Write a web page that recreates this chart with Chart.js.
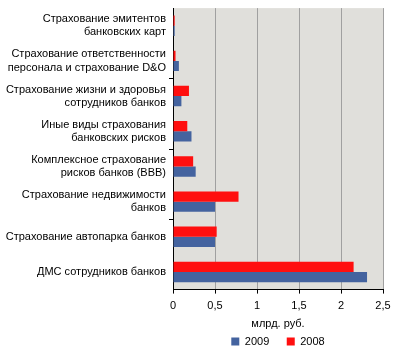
<!DOCTYPE html>
<html><head><meta charset="utf-8">
<script src="https://cdn.jsdelivr.net/npm/chart.js@4"></script>
<style>html,body{margin:0;padding:0;background:#fff}#wrap{width:394px;height:357px}</style>
</head><body><div id="wrap"><canvas id="c" width="394" height="357"></canvas></div>
<script>
const categories = [
  ["Страхование эмитентов", "банковских карт"],
  ["Страхование ответственности", "персонала и страхование D&O"],
  ["Страхование жизни и здоровья", "сотрудников банков"],
  ["Иные виды страхования", "банковских рисков"],
  ["Комплексное страхование", "рисков банков (BBB)"],
  ["Страхование недвижимости", "банков"],
  "Страхование автопарка банков",
  "ДМС сотрудников банков"
];
const values2008 = [0.02, 0.03, 0.19, 0.17, 0.24, 0.78, 0.52, 2.15];
const values2009 = [0.02, 0.07, 0.10, 0.22, 0.27, 0.50, 0.50, 2.31];
const xTicks = [0, 0.5, 1, 1.5, 2, 2.5];
const xTitle = "млрд. руб.";
const FONT = "Liberation Sans";

const bgPlugin = {
  id: 'bg',
  beforeDraw(chart) {
    const a = chart.chartArea, ctx = chart.ctx;
    ctx.save(); ctx.fillStyle = '#e0dfdb';
    ctx.fillRect(a.left, a.top, a.right - a.left, a.bottom - a.top);
    ctx.restore();
  },
  afterDraw(chart) {
    const s = chart.scales.y, x = chart.scales.x, ctx = chart.ctx;
    ctx.save(); ctx.strokeStyle = '#000'; ctx.lineWidth = 1;
    for (let i = 2; i < s.ticks.length; i += 2) {
      const y = Math.round((s.getPixelForTick(i - 1) + s.getPixelForTick(i)) / 2) + 0.5;
      ctx.beginPath(); ctx.moveTo(s.right - 4, y); ctx.lineTo(s.right, y); ctx.stroke();
    }
    xTicks.forEach(v => {
      const px = Math.round(x.getPixelForValue(v)) + 0.5;
      ctx.beginPath(); ctx.moveTo(px, x.top); ctx.lineTo(px, x.top + 4); ctx.stroke();
    });
    ctx.restore();
  }
};

new Chart(document.getElementById('c'), {
  type: 'bar',
  plugins: [bgPlugin],
  data: {
    labels: categories,
    datasets: [
      { label: '2008', data: values2008, backgroundColor: '#ff0f0f', borderWidth: 0, categoryPercentage: 0.58, barPercentage: 1 },
      { label: '2009', data: values2009, backgroundColor: '#44639f', borderWidth: 0, categoryPercentage: 0.58, barPercentage: 1 }
    ]
  },
  options: {
    indexAxis: 'y',
    responsive: false,
    animation: false,
    devicePixelRatio: 1,
    layout: { padding: { top: 0, right: 11, left: 0, bottom: 0 } },
    plugins: {
      legend: {
        position: 'bottom', reverse: true, fullSize: false,
        labels: {
          boxWidth: 8, boxHeight: 8, font: { family: FONT, size: 11 }, color: '#000', padding: 0,
          generateLabels(chart) {
            const items = Chart.defaults.plugins.legend.labels.generateLabels(chart);
            items.forEach(it => { if (it.datasetIndex === 1) it.text = it.text + '\u00a0\u00a0\u00a0\u00a0\u00a0\u2009'; });
            return items;
          }
        }
      },
      tooltip: { enabled: false }
    },
    scales: {
      x: {
        min: 0, max: 2.5,
        afterBuildTicks(scale) { scale.ticks = xTicks.map(v => ({ value: v })); },
        ticks: { font: { family: FONT, size: 11 }, color: '#000', padding: 0,
          callback: v => String(v).replace('.', ',') },
        grid: { color: '#a0a0a0', tickColor: 'rgba(0,0,0,0)', tickLength: 10 },
        border: { color: '#000', width: 1 },
        title: { display: true, text: xTitle, font: { family: FONT, size: 11 }, color: '#000', padding: { top: 5, bottom: 5 } }
      },
      y: {
        afterFit(scale) { scale.width = 173; },
        ticks: { font: { family: FONT, size: 11 }, color: '#000', padding: 1.5, autoSkip: false },
        grid: { display: false, tickLength: 5.5 },
        border: { color: '#000', width: 1 }
      }
    }
  }
});
</script></body></html>
